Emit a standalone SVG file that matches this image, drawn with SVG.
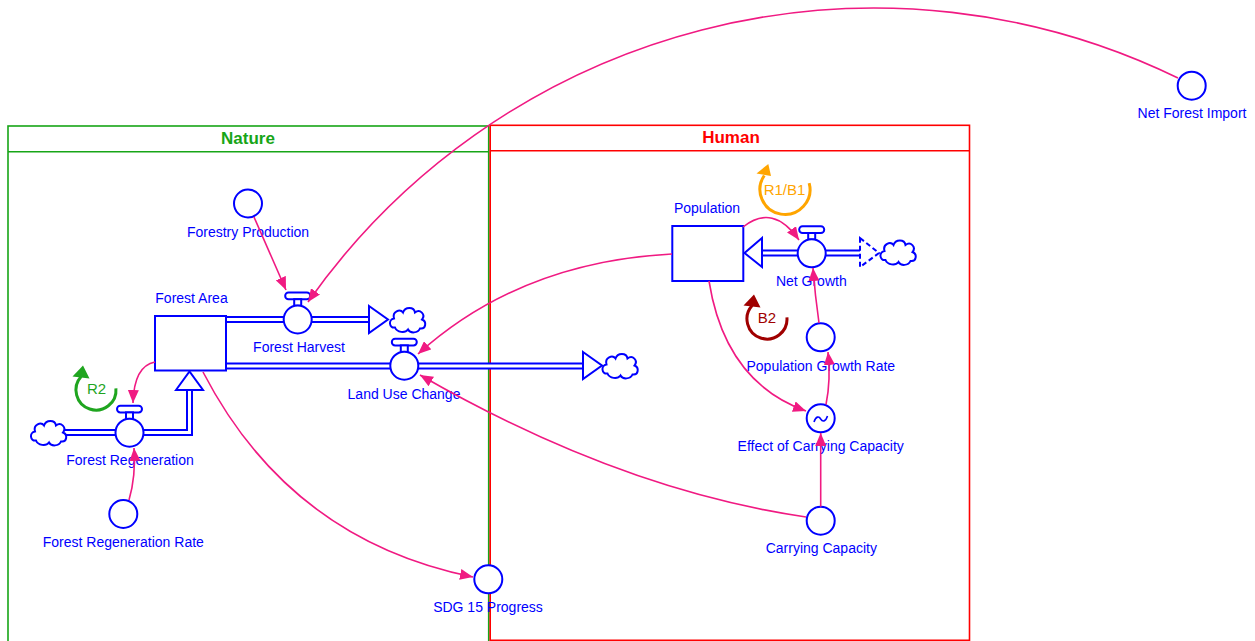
<svg xmlns="http://www.w3.org/2000/svg" width="1255" height="641" viewBox="0 0 1255 641">
  <style>
    .lbl { font-family: "Liberation Sans", Arial, sans-serif; font-size: 14px; fill: #0000ff; text-anchor: middle; }
    .hdr { font-family: "Liberation Sans", Arial, sans-serif; font-size: 17px; font-weight: bold; text-anchor: middle; }
    .loop { font-family: "Liberation Sans", Arial, sans-serif; font-size: 15px; text-anchor: middle; }
    .node { fill: #ffffff; stroke: #0000ff; stroke-width: 2; }
    .pipe-out { fill: none; stroke: #0000ff; stroke-width: 7; stroke-linejoin: miter; }
    .pipe-in { fill: none; stroke: #ffffff; stroke-width: 3; stroke-linejoin: miter; }
    .flowhead { fill: #ffffff; stroke: #0000ff; stroke-width: 2; stroke-linejoin: miter; }
    .link { fill: none; stroke: #f01a82; stroke-width: 1.6; marker-end: url(#tip); }
    .ring { fill: none; stroke-width: 3; }
  </style>
  <defs>
    <marker id="tip" viewBox="0 0 13 11" refX="13" refY="5.5" markerWidth="13" markerHeight="11" markerUnits="userSpaceOnUse" orient="auto">
      <path d="M0,0 L13,5.5 L0,11 Z" fill="#f01a82"/>
    </marker>
    <!-- cloud (source / sink), centred on 0,0 -->
    <path id="cloud" d="M-13,8 C-19,9 -20,0 -14,-1 C-16,-8 -8,-11 -5,-7 C-3,-13 6,-13 7,-7 C12,-11 18,-5 14,0 C19,2 18,10 12,9 C10,14 2,14 0,10 C-3,14 -11,13 -13,8 Z" fill="#ffffff" stroke="#0000ff" stroke-width="2"/>
    <!-- flow valve, centred on 0,0 -->
    <g id="valve">
      <rect x="-12.5" y="-27" width="25" height="6.7" rx="3.3" class="node"/>
      <rect x="-3.5" y="-20.3" width="7" height="6.5" class="node"/>
      <circle r="14" class="node"/>
    </g>
  </defs>

  <rect width="1255" height="641" fill="#ffffff"/>

  <!-- sectors -->
  <g id="sector-nature">
    <rect x="8" y="126" width="480.7" height="530" fill="none" stroke="#17a517" stroke-width="1.6"/>
    <line x1="8" y1="151.7" x2="488.7" y2="151.7" stroke="#17a517" stroke-width="1.6"/>
    <text x="248" y="144" class="hdr" fill="#17a517">Nature</text>
  </g>
  <g id="sector-human">
    <rect x="490.2" y="125.3" width="479.3" height="515" fill="none" stroke="#ff0000" stroke-width="1.6"/>
    <line x1="490.2" y1="150.7" x2="969.5" y2="150.7" stroke="#ff0000" stroke-width="1.6"/>
    <text x="731" y="143" class="hdr" fill="#ff0000">Human</text>
  </g>

  <!-- flows: pipes, heads, clouds, valves -->
  <g id="flow-forest-harvest">
    <path d="M226,319.5 H369" class="pipe-out"/>
    <path d="M226,319.5 H369" class="pipe-in"/>
    <polygon points="369,306 388,319.5 369,333" class="flowhead"/>
    <use href="#cloud" x="408" y="319.5"/>
    <use href="#valve" x="297.7" y="319.5"/>
    <text x="299" y="352" class="lbl">Forest Harvest</text>
  </g>
  <g id="flow-land-use-change">
    <path d="M226,366 H583" class="pipe-out"/>
    <path d="M226,366 H583" class="pipe-in"/>
    <polygon points="583,352 602,365.5 583,379" class="flowhead"/>
    <use href="#cloud" x="620.5" y="365.5"/>
    <use href="#valve" x="404.3" y="365.7"/>
    <text x="404" y="399" class="lbl">Land Use Change</text>
  </g>
  <g id="flow-forest-regeneration">
    <path d="M64,432.5 H189.5 V390" class="pipe-out"/>
    <path d="M64,432.5 H189.5 V390" class="pipe-in"/>
    <polygon points="176,390 189.5,371.5 203,390" class="flowhead"/>
    <use href="#cloud" x="49" y="432.5"/>
    <use href="#valve" x="129.5" y="432.7"/>
    <text x="130" y="465" class="lbl">Forest Regeneration</text>
  </g>
  <g id="flow-net-growth">
    <path d="M762,253 H860" class="pipe-out"/>
    <path d="M762,253 H860" class="pipe-in"/>
    <polygon points="762,238 744.5,253 762,267" class="flowhead"/>
    <polygon points="860,238 879,253 860,267" class="flowhead" stroke-dasharray="5,3"/>
    <use href="#cloud" x="898.5" y="252"/>
    <use href="#valve" x="811.7" y="253.3"/>
    <text x="811.3" y="286" class="lbl">Net Growth</text>
  </g>

  <!-- stocks -->
  <g id="stock-forest-area">
    <rect x="155" y="316" width="71" height="54.5" class="node"/>
    <text x="191.5" y="303" class="lbl">Forest Area</text>
  </g>
  <g id="stock-population">
    <rect x="672.3" y="226" width="71" height="55" class="node"/>
    <text x="707" y="213" class="lbl">Population</text>
  </g>

  <!-- auxiliaries -->
  <g id="aux-forestry-production">
    <circle cx="248" cy="203.5" r="14" class="node"/>
    <text x="248" y="237" class="lbl">Forestry Production</text>
  </g>
  <g id="aux-net-forest-import">
    <circle cx="1191.7" cy="85.7" r="14" class="node"/>
    <text x="1192" y="118" class="lbl">Net Forest Import</text>
  </g>
  <g id="aux-forest-regeneration-rate">
    <circle cx="123.3" cy="514" r="14" class="node"/>
    <text x="123.3" y="547" class="lbl">Forest Regeneration Rate</text>
  </g>
  <g id="aux-sdg15-progress">
    <circle cx="488.3" cy="579.3" r="14" class="node"/>
    <text x="488" y="612" class="lbl">SDG 15 Progress</text>
  </g>
  <g id="aux-population-growth-rate">
    <circle cx="820.7" cy="337.3" r="14" class="node"/>
    <text x="820.8" y="371" class="lbl">Population Growth Rate</text>
  </g>
  <g id="aux-effect-of-carrying-capacity">
    <circle cx="820.7" cy="418.3" r="14" class="node"/>
    <path d="M814,422 C816,416 819,416 820.7,419 C822.5,422 825.5,422 827.5,416" fill="none" stroke="#0000ff" stroke-width="1.6"/>
    <text x="820.7" y="451" class="lbl">Effect of Carrying Capacity</text>
  </g>
  <g id="aux-carrying-capacity">
    <circle cx="820.7" cy="520.7" r="14" class="node"/>
    <text x="821.3" y="553" class="lbl">Carrying Capacity</text>
  </g>

  <!-- connectors -->
  <g id="connectors">
    <path d="M254,217 L286,290" class="link"/>
    <path d="M1178,78 A693,693 0 0 0 308,302" class="link"/>
    <path d="M743,227 Q773,203 799,240" class="link"/>
    <path d="M672,254 Q520,262 418,354" class="link"/>
    <path d="M709,281 Q725,382 806,411" class="link"/>
    <path d="M819,323 Q815,295 813,268" class="link"/>
    <path d="M826,404.5 Q831,380 828,352" class="link"/>
    <path d="M820.7,506.7 L820.7,433" class="link"/>
    <path d="M806,517 Q620,490 420,375" class="link"/>
    <path d="M155,362 Q134,366 133,403" class="link"/>
    <path d="M129,500 Q136,476 134,448" class="link"/>
    <path d="M203,372 Q290,540 473,577" class="link"/>
  </g>

  <!-- loop markers: ring plus filled arrowhead -->
  <g id="loop-r2">
    <path d="M115.92,388.26 A20,20 0 1 1 81.14,376.62" class="ring" stroke="#1fa51f"/>
    <polygon points="72.5,376.5 89.5,378.5 83,365.5" fill="#1fa51f"/>
    <text x="96.5" y="393.5" class="loop" fill="#1fa51f">R2</text>
  </g>
  <g id="loop-r1b1">
    <path d="M809.15,183.03 A25,25 0 1 1 764.27,175.5" class="ring" stroke="#ffa500"/>
    <polygon points="756.5,173.5 771,176 768.3,164" fill="#ffa500"/>
    <text x="784.5" y="194.5" class="loop" fill="#ffa500">R1/B1</text>
  </g>
  <g id="loop-b2">
    <path d="M786.92,317.26 A20,20 0 1 1 752.14,305.62" class="ring" stroke="#a00000"/>
    <polygon points="743.5,305.5 760.5,307.5 754,294.5" fill="#a00000"/>
    <text x="767" y="322.5" class="loop" fill="#a00000">B2</text>
  </g>
</svg>
